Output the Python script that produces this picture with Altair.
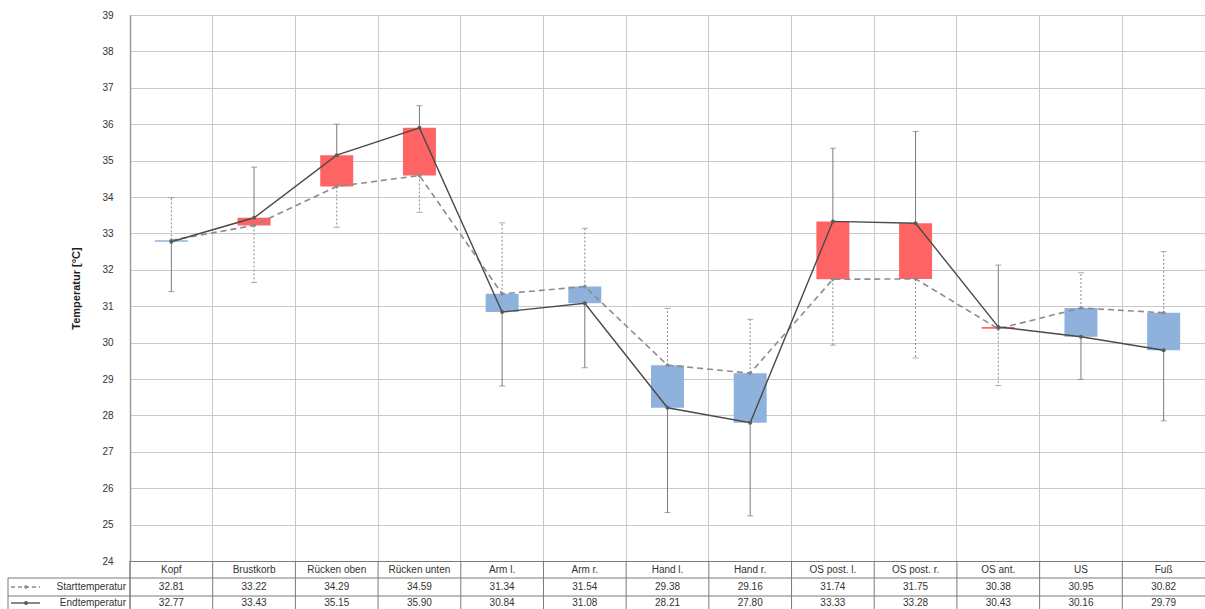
import altair as alt
import pandas as pd

# Body regions and mean skin temperatures (°C) at start and end of the session
categories = ["Kopf", "Brustkorb", "Rücken oben", "Rücken unten", "Arm l.", "Arm r.",
              "Hand l.", "Hand r.", "OS post. l.", "OS post. r.", "OS ant.", "US", "Fuß"]
start_temp = [32.81, 33.22, 34.29, 34.59, 31.34, 31.54, 29.38, 29.16, 31.74, 31.75, 30.38, 30.95, 30.82]
end_temp = [32.77, 33.43, 35.15, 35.90, 30.84, 31.08, 28.21, 27.80, 33.33, 33.28, 30.43, 30.16, 29.79]
# far end of each one-sided standard-deviation bar
start_whisker = [33.98, 31.65, 33.17, 33.58, 33.29, 33.14, 30.94, 30.64, 29.93, 29.58, 28.82, 31.92, 32.50]
end_whisker = [31.40, 34.82, 36.00, 36.51, 28.81, 29.31, 25.33, 25.24, 35.34, 35.80, 32.13, 28.99, 27.85]
y_ticks = list(range(24, 40))
row_labels = ["Starttemperatur", "Endtemperatur"]

df = pd.DataFrame({
    "cat": categories,
    "start": start_temp,
    "end": end_temp,
    "start_w": start_whisker,
    "end_w": end_whisker,
})
df["lo"] = df[["start", "end"]].min(axis=1)
df["hi"] = df[["start", "end"]].max(axis=1)
df["dir"] = ["up" if e > s else "down" for s, e in zip(start_temp, end_temp)]

W, H = 1075, 546
FONT = "Liberation Sans"
GRID = "#c9c9c9"
BORDER = "#7a7a7a"
ROW1, ROW2, ROW3 = 555, 572, 588      # text rows of the data table below the plot
LINE1, LINE2, BOTTOM = 563, 581, 600  # table rule positions

x_axis = alt.Axis(grid=True, bandPosition=0, labels=False, ticks=False, domain=True,
                  domainColor=BORDER, domainWidth=1, gridColor=GRID, gridWidth=1, title=None)
x_scale = alt.Scale(domain=categories, paddingInner=0, paddingOuter=0)


def xenc(**kw):
    return alt.X("cat:N", sort=categories, scale=x_scale, axis=x_axis, **kw)


y_axis = alt.Axis(values=y_ticks, title="Temperatur [°C]", grid=True, gridColor=GRID,
                  gridWidth=1, ticks=False, labelPadding=17, titlePadding=20,
                  domainColor="#9a9a9a", domainWidth=1.5, labelFontSize=10,
                  labelColor="#333333", titleFontSize=11, titleFontWeight="bold",
                  titleColor="#222222", labelFont=FONT, titleFont=FONT)
y_scale = alt.Scale(domain=[24, 39], nice=False, zero=False)


def yenc(field):
    return alt.Y(f"{field}:Q", scale=y_scale, axis=y_axis)


base = alt.Chart(df)

# floating boxes spanning start -> end temperature
boxes = base.mark_bar(size=33).encode(
    x=xenc(),
    y=yenc("lo"),
    y2="hi:Q",
    color=alt.Color("dir:N", scale=alt.Scale(domain=["up", "down"],
                                             range=["#ff6464", "#8fb2dc"]), legend=None),
)

start_err = base.mark_rule(color="#8a8a8a", strokeWidth=1, strokeDash=[2, 2]).encode(
    x=xenc(), y=yenc("start"), y2="start_w:Q")
start_cap = base.mark_tick(color="#8a8a8a", size=6, thickness=1).encode(
    x=xenc(), y=yenc("start_w"))
end_err = base.mark_rule(color="#7a7a7a", strokeWidth=1).encode(
    x=xenc(), y=yenc("end"), y2="end_w:Q")
end_cap = base.mark_tick(color="#7a7a7a", size=6, thickness=1).encode(
    x=xenc(), y=yenc("end_w"))

start_line = base.mark_line(color="#8c8c8c", strokeWidth=1.6, strokeDash=[6, 4]).encode(
    x=xenc(), y=yenc("start"))
start_pts = base.mark_point(filled=True, shape="diamond", size=22, color="#8c8c8c", opacity=1).encode(
    x=xenc(), y=yenc("start"))
end_line = base.mark_line(color="#4a4a4a", strokeWidth=1.4).encode(
    x=xenc(), y=yenc("end"))
end_pts = base.mark_point(filled=True, size=16, color="#5a5a5a", opacity=1).encode(
    x=xenc(), y=yenc("end"))

# ---- data table under the plot ----
txt = dict(font=FONT, fontSize=10, color="#333333", align="center", baseline="middle")
names = base.mark_text(**txt).encode(x=xenc(), y=alt.value(ROW1), text="cat:N")
start_vals = base.mark_text(**txt).encode(x=xenc(), y=alt.value(ROW2),
                                          text=alt.Text("start:Q", format=".2f"))
end_vals = base.mark_text(**txt).encode(x=xenc(), y=alt.value(ROW3),
                                        text=alt.Text("end:Q", format=".2f"))

col_lines = base.mark_rule(color=BORDER, strokeWidth=1).encode(
    x=xenc(bandPosition=0), y=alt.value(H), y2=alt.value(BOTTOM))

one = alt.Chart(pd.DataFrame({"k": [0]}))
table_rules = alt.layer(
    one.mark_rule(color=BORDER).encode(x=alt.value(-122), x2=alt.value(W), y=alt.value(LINE1)),
    one.mark_rule(color=BORDER).encode(x=alt.value(-122), x2=alt.value(W), y=alt.value(LINE2)),
    one.mark_rule(color=BORDER).encode(x=alt.value(-122), y=alt.value(LINE1), y2=alt.value(BOTTOM)),
    one.mark_rule(color=BORDER).encode(x=alt.value(0), y=alt.value(H), y2=alt.value(BOTTOM)),
)

row_txt = dict(font=FONT, fontSize=10, color="#333333", align="right", baseline="middle")
row_text = alt.layer(
    one.mark_text(text=row_labels[0], **row_txt).encode(x=alt.value(-4), y=alt.value(ROW2)),
    one.mark_text(text=row_labels[1], **row_txt).encode(x=alt.value(-4), y=alt.value(ROW3)),
)

# line samples in front of the row labels
legend_syms = alt.layer(
    one.mark_rule(color="#8c8c8c", strokeWidth=1.4, strokeDash=[4, 3]).encode(
        x=alt.value(-119), x2=alt.value(-90), y=alt.value(ROW2)),
    one.mark_point(filled=True, shape="diamond", size=22, color="#8c8c8c", opacity=1).encode(
        x=alt.value(-104), y=alt.value(ROW2)),
    one.mark_rule(color="#4a4a4a", strokeWidth=1.3).encode(
        x=alt.value(-119), x2=alt.value(-90), y=alt.value(ROW3)),
    one.mark_point(filled=True, size=16, color="#5a5a5a", opacity=1).encode(
        x=alt.value(-104), y=alt.value(ROW3)),
)

plot = alt.layer(
    boxes, start_err, start_cap, end_err, end_cap,
    start_line, end_line, start_pts, end_pts,
    col_lines, names, start_vals, end_vals,
).properties(width=W, height=H)

chart = alt.layer(plot, table_rules, row_text, legend_syms).properties(
    width=W, height=H,
    autosize=alt.AutoSizeParams(type="none"),
    padding={"left": 130, "top": 15, "right": 0, "bottom": 48},
    background="white",
).configure_view(strokeWidth=0)

chart.save("out.html", embed_options={"renderer": "svg", "actions": False})
